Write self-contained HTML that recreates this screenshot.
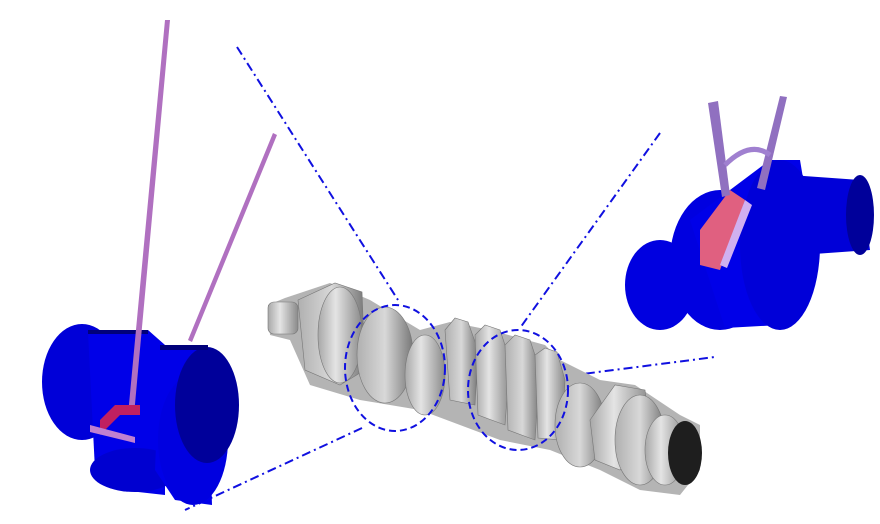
<!DOCTYPE html>
<html><head><style>body{margin:0;background:#fff}svg{display:block}</style></head><body>
<svg width="880" height="524" viewBox="0 0 880 524" xmlns="http://www.w3.org/2000/svg">
<defs>
<linearGradient id="g" x1="0" y1="0" x2="1" y2="0"><stop offset="0" stop-color="#a8a8a8"/><stop offset="0.4" stop-color="#e4e4e4"/><stop offset="1" stop-color="#8a8a8a"/></linearGradient>
<linearGradient id="d" x1="0" y1="0" x2="1" y2="0"><stop offset="0" stop-color="#b0b0b0"/><stop offset="0.5" stop-color="#d8d8d8"/><stop offset="1" stop-color="#777"/></linearGradient>
</defs>
<g stroke="#1010e0" stroke-width="2" fill="none" stroke-dasharray="9,4,2,4">
<line x1="237" y1="47" x2="398" y2="300"/>
<line x1="660" y1="133" x2="520" y2="328"/>
<line x1="567" y1="376" x2="715" y2="357"/>
<line x1="362" y1="428" x2="185" y2="510"/>
</g>
<!-- crankshaft -->
<path d="M268,305 L285,298 L330,283 L370,300 L420,330 L450,322 L490,330 L545,345 L560,360 L600,380 L635,385 L680,415 L700,425 L700,470 L680,495 L640,490 L600,470 L550,450 L500,440 L420,410 L360,400 L310,385 L290,340 L270,335 Z" fill="#b4b4b4"/>
<g stroke="#777" stroke-width="0.6">
<rect x="268" y="302" width="30" height="32" rx="6" fill="url(#g)"/>
<path d="M298,300 L335,283 L362,292 L365,370 L340,385 L305,370 Z" fill="url(#d)"/>
<ellipse cx="340" cy="335" rx="22" ry="48" fill="url(#g)"/>
<ellipse cx="385" cy="355" rx="28" ry="48" fill="url(#d)"/>
<ellipse cx="425" cy="375" rx="20" ry="40" fill="url(#g)"/>
<path d="M445,330 L455,318 L468,322 L478,350 L475,405 L450,400 Z" fill="url(#d)"/>
<path d="M475,335 L485,325 L500,330 L510,360 L505,425 L478,415 Z" fill="url(#g)"/>
<path d="M505,345 L515,335 L530,340 L540,370 L535,440 L508,430 Z" fill="url(#d)"/>
<path d="M535,355 L545,348 L557,352 L565,380 L562,440 L538,438 Z" fill="url(#g)"/>
<ellipse cx="580" cy="425" rx="25" ry="42" fill="url(#d)"/>
<path d="M590,420 L615,385 L645,390 L650,430 L620,470 L595,460 Z" fill="url(#g)"/>
<ellipse cx="640" cy="440" rx="25" ry="45" fill="url(#d)"/>
<ellipse cx="665" cy="450" rx="20" ry="35" fill="url(#g)"/>
</g>
<ellipse cx="685" cy="453" rx="17" ry="32" fill="#1e1e1e"/>
<g fill="none" stroke="#1010e0" stroke-width="2" stroke-dasharray="7,4">
<ellipse cx="395" cy="368" rx="50" ry="63"/>
<ellipse cx="518" cy="390" rx="50" ry="60"/>
</g>
<!-- left assembly -->
<ellipse cx="82" cy="382" rx="40" ry="58" fill="#0000d8"/>
<path d="M88,332 L148,330 L165,345 L165,495 L120,490 L95,470 Z" fill="#0000e8"/>
<ellipse cx="135" cy="470" rx="45" ry="22" fill="#0000d0"/>
<path d="M160,348 L207,347 L212,505 L175,500 L155,470 Z" fill="#0000e8"/>
<ellipse cx="193" cy="440" rx="35" ry="65" fill="#0000e0"/>
<ellipse cx="207" cy="405" rx="32" ry="58" fill="#00009a"/>
<rect x="88" y="330" width="60" height="4" fill="#00007a"/>
<rect x="160" y="345" width="48" height="5" fill="#00007a"/>
<polygon points="165,20 170,20 134,415 128,415" fill="#b070c0"/>
<polygon points="273,133 277,135 192,342 188,340" fill="#b070c0"/>
<path d="M100,420 L115,405 L140,405 L140,415 L120,415 L100,435 Z" fill="#c02060"/>
<polygon points="90,425 135,437 135,443 90,432" fill="#c080d0"/>
<!-- right assembly -->
<ellipse cx="660" cy="285" rx="35" ry="45" fill="#0000e0"/>
<ellipse cx="720" cy="260" rx="50" ry="70" fill="#0000e0"/>
<path d="M690,220 L770,160 L800,160 L810,220 L780,325 L725,328 Z" fill="#0000e8"/>
<ellipse cx="780" cy="245" rx="40" ry="85" fill="#0000d8"/>
<path d="M790,175 L860,180 L870,250 L800,255 Z" fill="#0000d8"/>
<ellipse cx="860" cy="215" rx="14" ry="40" fill="#00009a"/>
<path d="M700,230 L730,190 L745,200 L720,270 L700,265 Z" fill="#e06080"/>
<path d="M720,265 L745,200 L752,205 L727,268 Z" fill="#d0b0f0"/>
<polygon points="708,103 718,101 730,195 722,197" fill="#9070c0"/>
<polygon points="780,96 787,97 765,190 757,188" fill="#9070c0"/>
<path d="M725,165 Q750,140 770,155" stroke="#a080d0" stroke-width="5" fill="none"/>
</svg>
</body></html>
